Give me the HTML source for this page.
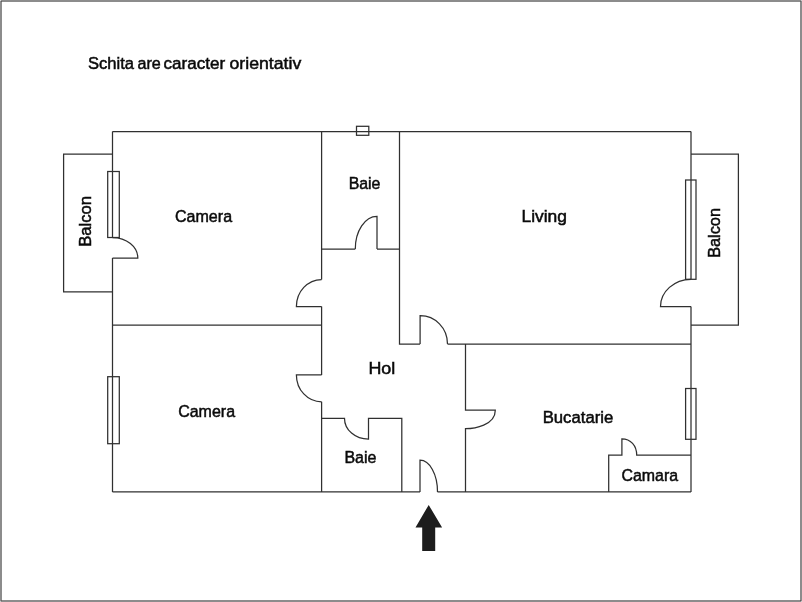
<!DOCTYPE html>
<html><head><meta charset="utf-8">
<style>
html,body{margin:0;padding:0;background:#fff;}
body{width:802px;height:602px;overflow:hidden;}
svg{display:block;will-change:transform;filter:grayscale(1);}
text{font-family:"Liberation Sans",sans-serif;fill:#0a0a0a;stroke:#0a0a0a;stroke-width:0.5px;}
</style></head><body>
<svg width="802" height="602" viewBox="0 0 802 602">
<rect x="0" y="0" width="802" height="602" fill="#fff"/>
<rect x="1" y="1" width="800" height="600" fill="none" stroke="#8c8c8c" stroke-width="2"/>
<g shape-rendering="crispEdges"><rect x="0" y="0" width="1" height="1" fill="#dcdcdc"/><rect x="801" y="0" width="1" height="1" fill="#d0d0d0"/><rect x="0" y="601" width="1" height="1" fill="#c8c8c8"/><rect x="801" y="601" width="1" height="1" fill="#d0d0d0"/>
<rect x="1" y="1" width="1" height="1" fill="#5e5e5e"/><rect x="800" y="1" width="1" height="1" fill="#686868"/><rect x="1" y="600" width="1" height="1" fill="#686868"/><rect x="800" y="600" width="1" height="1" fill="#5e5e5e"/></g>
<g fill="none" stroke="#303030" stroke-width="1.25">
<!-- outer walls -->
<path d="M112.5,131.5 H691"/>
<path d="M112.5,131.5 V237.5 M112.5,258 V491.9"/>
<path d="M112.5,491.9 H420 M437.5,491.9 H691"/>
<path d="M691,131.5 V279.3 M691,306.5 V491.9"/>
<!-- balconies -->
<path d="M112.5,154 H63.6 V291.8 H112.5"/>
<path d="M691,154 H738.4 V325 H691"/>
<!-- windows -->
<rect x="107.7" y="171.5" width="11.6" height="66"/>
<rect x="107.7" y="376.7" width="11.6" height="67"/>
<rect x="685.6" y="180" width="10.4" height="99.3"/>
<rect x="685.6" y="388.5" width="10.4" height="50.8"/>
<rect x="356.5" y="126.3" width="12.3" height="9"/>
<!-- left balcony door -->
<path d="M112.5,237.5 A25.3,20.5 0 0 1 137.8,258 H112.5"/>
<!-- right balcony door -->
<path d="M691,279.3 A30.8,27.2 0 0 0 660.5,306.5 H691"/>
<!-- inner walls -->
<path d="M112.5,325 H321.6"/>
<path d="M321.6,131.5 V279.5 M321.6,306.6 V374.9 M321.6,401.75 V491.9"/>
<path d="M399.5,131.5 V344 H420.1 M447.5,344 H691"/>
<path d="M321.6,249 H355.3 M377,249 H399.5"/>
<!-- baie upper door -->
<path d="M377,249 V216.4 A21.7,32.6 0 0 0 355.3,249"/>
<!-- camera upper door -->
<path d="M321.6,279.5 A25.2,27.1 0 0 0 296.4,306.6 H321.6"/>
<!-- camera lower door -->
<path d="M321.6,374.9 H296.4 A25.2,26.85 0 0 0 321.6,401.75"/>
<!-- living door -->
<path d="M420.1,344 V315.7 A27.2,28.3 0 0 1 447.5,344"/>
<!-- hol/bucatarie wall -->
<path d="M465.5,344 V410.2 H495.3 C495.3,425.2 474.25,428.7 465.5,428.7 V491.9"/>
<!-- baie lower -->
<path d="M321.6,418.4 H344.5 A24,20.7 0 0 0 368.5,439.1 V418.4 H401.8 V491.9"/>
<!-- entrance door -->
<path d="M420,491.9 V460.2 A17.5,31.7 0 0 1 437.5,491.9"/>
<!-- camara -->
<path d="M608.7,491.9 V455.1 H621.9 V438.8 C630.6,438.8 636.7,445.5 636.7,455.1 H691"/>
</g>
<polygon points="428.7,504.9 442.1,527.6 435.2,527.6 435.2,551 422.2,551 422.2,527.6 415.5,527.6" fill="#1f1c1d"/>
<text x="88.00" y="68.60" font-size="16.8" textLength="46.10" lengthAdjust="spacingAndGlyphs">Schita</text>
<text x="137.50" y="68.60" font-size="16.8" textLength="23.35" lengthAdjust="spacingAndGlyphs">are</text>
<text x="163.50" y="68.60" font-size="16.8" textLength="61.65" lengthAdjust="spacingAndGlyphs">caracter</text>
<text x="229.50" y="68.60" font-size="16.8" textLength="71.75" lengthAdjust="spacingAndGlyphs">orientativ</text>
<text x="174.95" y="222.30" font-size="16.8" textLength="57.15" lengthAdjust="spacingAndGlyphs">Camera</text>
<text x="348.65" y="189.20" font-size="16.8" textLength="31.82" lengthAdjust="spacingAndGlyphs">Baie</text>
<text x="521.45" y="222.30" font-size="16.8" textLength="45.55" lengthAdjust="spacingAndGlyphs">Living</text>
<text x="368.40" y="374.00" font-size="16.8" textLength="26.86" lengthAdjust="spacingAndGlyphs">Hol</text>
<text x="178.15" y="417.30" font-size="16.8" textLength="56.90" lengthAdjust="spacingAndGlyphs">Camera</text>
<text x="344.45" y="463.30" font-size="16.8" textLength="32.03" lengthAdjust="spacingAndGlyphs">Baie</text>
<text x="542.65" y="423.30" font-size="16.8" textLength="70.66" lengthAdjust="spacingAndGlyphs">Bucatarie</text>
<text x="621.45" y="481.10" font-size="16.8" textLength="56.65" lengthAdjust="spacingAndGlyphs">Camara</text>
<text transform="translate(91.10,246.85) rotate(-90)" font-size="16.8" textLength="50.98" lengthAdjust="spacingAndGlyphs">Balcon</text>
<text transform="translate(720.00,257.85) rotate(-90)" font-size="16.8" textLength="49.84" lengthAdjust="spacingAndGlyphs">Balcon</text>
</svg>
</body></html>
